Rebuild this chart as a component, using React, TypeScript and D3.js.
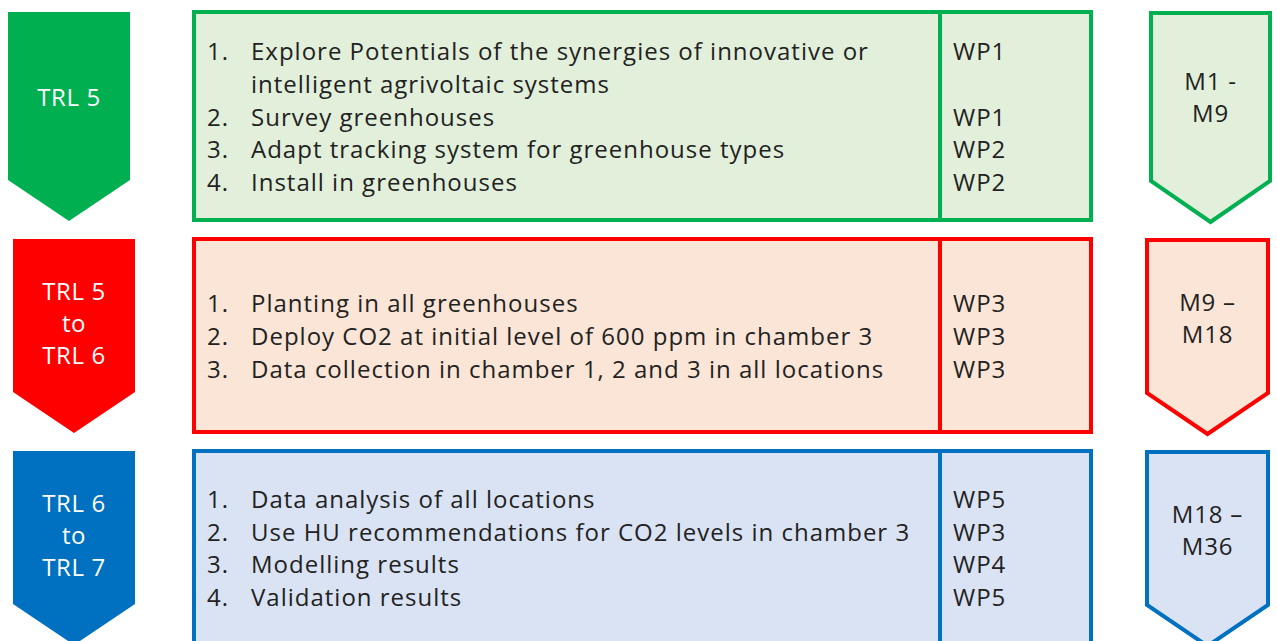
import * as d3 from 'd3';

// stage labels (left arrows)
const trlLabels: string[][] = [['TRL 5'], ['TRL 5', 'to', 'TRL 6'], ['TRL 6', 'to', 'TRL 7']];
// tasks per stage, each task may wrap on several lines
const tasks: string[][][] = [
  [
    ['Explore Potentials of the synergies of innovative or', 'intelligent agrivoltaic systems'],
    ['Survey greenhouses'],
    ['Adapt tracking system for greenhouse types'],
    ['Install in greenhouses'],
  ],
  [
    ['Planting in all greenhouses'],
    ['Deploy CO2 at initial level of 600 ppm in chamber 3'],
    ['Data collection in chamber 1, 2 and 3 in all locations'],
  ],
  [
    ['Data analysis of all locations'],
    ['Use HU recommendations for CO2 levels in chamber 3'],
    ['Modelling results'],
    ['Validation results'],
  ],
];
const workPackages: string[][] = [
  ['WP1', 'WP1', 'WP2', 'WP2'],
  ['WP3', 'WP3', 'WP3'],
  ['WP5', 'WP3', 'WP4', 'WP5'],
];
const months: string[][] = [['M1 -', 'M9'], ['M9 \u2013', 'M18'], ['M18 \u2013', 'M36']];

// look
const strokeColors = ['#00b050', '#ff0000', '#0070c0'];
const fillColors = ['#e2efda', '#fbe5d6', '#dae3f3'];

const W = 1277;
const H = 641;
const rowTop = [12, 239, 451];
const rowBottom = [220, 432, 644];
const lineH = 32.8;
const font = '"Open Sans", Lato, sans-serif';

// chevron pointing down: rectangle with a triangular bottom
const chevron = (x0: number, x1: number, top: number, shoulder: number, tip: number) => {
  const p = d3.path();
  p.moveTo(x0, top);
  p.lineTo(x1, top);
  p.lineTo(x1, shoulder);
  p.lineTo((x0 + x1) / 2, tip);
  p.lineTo(x0, shoulder);
  p.closePath();
  return p.toString();
};

export default function App() {
  const boxX0 = 194;
  const boxX1 = 1091;
  const divX = 940;

  return (
    <svg width={W} height={H} style={{ position: 'absolute', left: 0, top: 0, background: '#fff' }}>
      {trlLabels.map((lab, r) => {
        const top = rowTop[r];
        const bottom = rowBottom[r];
        const shoulder = bottom - 40;
        const tip = bottom + 1;
        const cy = (top + shoulder) / 2 + (r === 0 ? 0 : 7);
        const lx0 = r === 0 ? 8 : 13;
        const lx1 = r === 0 ? 130 : 135;

        // text lines inside the main box
        const lines: { text: string; num: string; wp: string }[] = [];
        tasks[r].forEach((t, i) =>
          t.forEach((txt, j) =>
            lines.push({ text: txt, num: j === 0 ? `${i + 1}.` : '', wp: j === 0 ? workPackages[r][i] : '' })
          )
        );
        const mid = (top + bottom) / 2;
        const ty = (k: number) => mid + (k - (lines.length - 1) / 2) * lineH;

        const rx0 = r === 0 ? 1151 : 1147;
        const rx1 = r === 0 ? 1270 : 1268;
        const rcy = (top + shoulder) / 2 + (r === 0 ? 0 : 2);

        return (
          <g key={r}>
            <path d={chevron(lx0, lx1, top, shoulder, tip)} fill={strokeColors[r]} />
            {lab.map((s, k) => (
              <text
                key={k}
                x={(lx0 + lx1) / 2}
                y={cy + (k - (lab.length - 1) / 2) * 32}
                fill="#fff"
                fontFamily={font}
                fontSize={24}
                letterSpacing={0.6}
                textAnchor="middle"
                dominantBaseline="central"
              >
                {s}
              </text>
            ))}

            <rect
              x={boxX0}
              y={top}
              width={boxX1 - boxX0}
              height={bottom - top}
              fill={fillColors[r]}
              stroke={strokeColors[r]}
              strokeWidth={4}
            />
            <line x1={divX} x2={divX} y1={top} y2={bottom} stroke={strokeColors[r]} strokeWidth={4} />
            {lines.map((l, k) => (
              <g key={k} fontFamily={font} fontSize={24} letterSpacing={1} fill="#222" dominantBaseline="central">
                <text x={207} y={ty(k)}>{l.num}</text>
                <text x={251} y={ty(k)}>{l.text}</text>
                <text x={953} y={ty(k)}>{l.wp}</text>
              </g>
            ))}

            <path
              d={chevron(rx0, rx1, top + 1, shoulder + 1, tip + 1)}
              fill={fillColors[r]}
              stroke={strokeColors[r]}
              strokeWidth={4}
              strokeLinejoin="miter"
            />
            {months[r].map((s, k) => (
              <text
                key={k}
                x={(rx0 + rx1) / 2}
                y={rcy + (k - 0.5) * 32}
                fill="#222"
                fontFamily={font}
                fontSize={24}
                letterSpacing={0.8}
                textAnchor="middle"
                dominantBaseline="central"
              >
                {s}
              </text>
            ))}
          </g>
        );
      })}
    </svg>
  );
}
